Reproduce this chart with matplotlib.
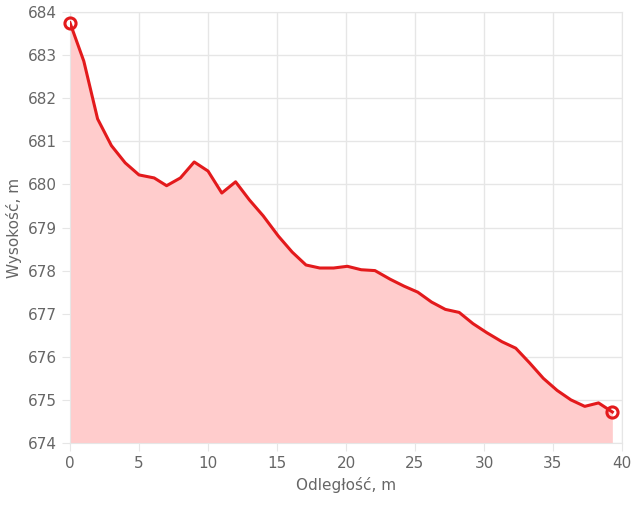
import matplotlib
matplotlib.use("Agg")
from matplotlib import pyplot as plt

distance = [0, 1.0, 2.0, 3.0, 4.0, 5.0, 6.1, 7.0, 8.0, 9.0, 10.0, 11.0, 12.0, 13.0,
            14.0, 15.1, 16.1, 17.1, 18.1, 19.1, 20.1, 21.1, 22.1, 23.2, 24.2, 25.2,
            26.2, 27.2, 28.2, 29.2, 30.2, 31.3, 32.3, 33.3, 34.3, 35.3, 36.3, 37.3,
            38.3, 39.3]
elevation = [683.75, 682.86, 681.52, 680.9, 680.5, 680.22, 680.15, 679.97, 680.15,
             680.52, 680.31, 679.8, 680.06, 679.64, 679.27, 678.8, 678.43, 678.13,
             678.06, 678.06, 678.1, 678.02, 678.0, 677.8, 677.64, 677.5, 677.27,
             677.1, 677.03, 676.77, 676.56, 676.35, 676.2, 675.86, 675.5, 675.22,
             675.0, 674.85, 674.93, 674.72]
x_ticks = list(range(0, 41, 5))
y_ticks = list(range(674, 685))

LINE = "#e31a1c"
GRID = "#e6e6e6"
TEXT = "#666666"

fig = plt.figure(figsize=(6.35, 5.07), dpi=100)
ax = fig.add_axes([70 / 635, 64 / 507, 552 / 635, 431 / 507])

ax.fill_between(distance, elevation, 674, color="#ffcccc", linewidth=0)
ax.plot(distance, elevation, color=LINE, linewidth=2.2, zorder=3)
ax.plot([distance[0], distance[-1]], [elevation[0], elevation[-1]], "o",
        markersize=8, markerfacecolor="none", markeredgecolor=LINE,
        markeredgewidth=2.2, zorder=4, clip_on=False)

ax.set_xlim(0, 40)
ax.set_ylim(674, 684)
ax.set_xticks(x_ticks)
ax.set_yticks(y_ticks)
ax.grid(True, color=GRID, linewidth=1)
ax.set_axisbelow(True)
for spine in ax.spines.values():
    spine.set_color(GRID)
ax.tick_params(colors=TEXT, labelsize=11, length=6, color=GRID)
ax.set_xlabel("Odległość, m", color=TEXT, fontsize=11)
ax.set_ylabel("Wysokość, m", color=TEXT, fontsize=11)

fig.savefig("out.png", dpi=100, facecolor="white")
